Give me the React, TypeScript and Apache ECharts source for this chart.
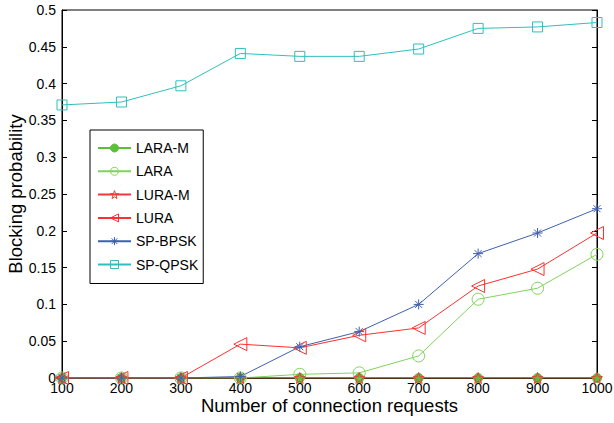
import React, { useEffect, useRef } from "react";
import * as echarts from "echarts";

const xValues = [100, 200, 300, 400, 500, 600, 700, 800, 900, 1000];
const seriesNames = ["LARA-M", "LARA", "LURA-M", "LURA", "SP-BPSK", "SP-QPSK"];
const laraM = [0, 0, 0, 0, 0, 0, 0, 0, 0, 0];
const lara = [0, 0, 0, 0, 0.005, 0.007, 0.03, 0.107, 0.122, 0.168];
const luraM = [0, 0, 0, 0, 0, 0, 0, 0, 0, 0];
const lura = [0, 0, 0, 0.046, 0.041, 0.058, 0.068, 0.125, 0.148, 0.197];
const spBpsk = [0, 0, 0, 0.002, 0.0425, 0.063, 0.1, 0.169, 0.197, 0.23];
const spQpsk = [0.371, 0.375, 0.397, 0.441, 0.437, 0.437, 0.447, 0.475, 0.477, 0.483];

const STAR =
  "path://M0,-10L2.35,-3.24L9.51,-3.09L3.8,1.24L5.88,8.09L0,4L-5.88,8.09L-3.8,1.24L-9.51,-3.09L-2.35,-3.24Z";
const ASTER =
  "path://M0,-10L0,10M-10,0L10,0M-7,-7L7,7M-7,7L7,-7";

export default function App() {
  const ref = useRef<HTMLDivElement>(null);
  useEffect(() => {
    if (!ref.current) return;
    const chart = echarts.init(ref.current, undefined, { renderer: "svg" });
    const font = "Liberation Sans, Arial, sans-serif";
    const colors = ["#5cbf3a", "#7fd45a", "#f03a3a", "#ff3030", "#3f5fb0", "#2fbfbf"];
    const hollowFlags = [false, true, true, true, true, true];
    const mk = (
      name: string,
      data: number[],
      color: string,
      symbol: string,
      size: number,
      hollow: boolean,
      rotate = 0
    ) => ({
      name,
      type: "line",
      data: data.map((v, i) => [xValues[i], v]),
      symbol,
      symbolSize: size,
      symbolRotate: rotate,
      showAllSymbol: true,
      lineStyle: { color, width: 1 },
      itemStyle: hollow
        ? { color: "rgba(255,255,255,0)", borderColor: color, borderWidth: 1 }
        : { color, borderColor: color, borderWidth: 1 },
      emphasis: { disabled: true },
    });
    chart.setOption({
      animation: false,
      backgroundColor: "#ffffff",
      textStyle: { fontFamily: font },
      grid: {
        left: 62,
        right: 17,
        top: 10,
        bottom: 45,
        show: true,
        borderColor: "#000",
        borderWidth: 1,
        containLabel: false,
        outerBoundsMode: "none",
      },
      legend: {
        orient: "vertical",
        left: 90,
        top: 130,
        data: seriesNames.map((n, i) => ({
          name: n,
          itemStyle: hollowFlags[i]
            ? { color: "rgba(255,255,255,0)", borderColor: colors[i], borderWidth: 1 }
            : { color: colors[i], borderColor: colors[i], borderWidth: 1 },
        })),
        itemWidth: 33,
        itemHeight: 10,
        itemGap: 9.3,
        itemTextGap: 6,
        padding: [11, 5, 12, 7],
        borderColor: "#000",
        borderWidth: 1,
        backgroundColor: "#fff",
        textStyle: { fontFamily: font, fontSize: 14, color: "#000" },
      },
      xAxis: [
        {
          type: "value",
          min: 100,
          max: 1000,
          interval: 100,
          name: "Number of connection requests",
          nameLocation: "middle",
          nameGap: 18,
          nameMoveOverlap: false,
          nameTextStyle: { fontFamily: font, fontSize: 18.5, color: "#000" },
          axisLine: { lineStyle: { color: "#000", width: 1 } },
          axisTick: { inside: true, length: 5, lineStyle: { color: "#000" } },
          axisLabel: {
            fontFamily: font,
            fontSize: 14,
            color: "#000",
            margin: 3,
            formatter: (v: number) => String(v),
          },
          splitLine: { show: false },
        },
        {
          type: "value",
          position: "top",
          min: 100,
          max: 1000,
          interval: 100,
          axisLine: { lineStyle: { color: "#000", width: 1 } },
          axisTick: { inside: true, length: 5, lineStyle: { color: "#000" } },
          axisLabel: { show: false },
          splitLine: { show: false },
        },
      ],
      yAxis: [
        {
          type: "value",
          min: 0,
          max: 0.5,
          interval: 0.05,
          name: "Blocking probability",
          nameLocation: "middle",
          nameGap: 37,
          nameMoveOverlap: false,
          nameTextStyle: { fontFamily: font, fontSize: 18.5, color: "#000" },
          axisLine: { show: true, lineStyle: { color: "#000", width: 1 } },
          axisTick: { show: true, inside: true, length: 5, lineStyle: { color: "#000" } },
          axisLabel: { fontFamily: font, fontSize: 14, color: "#000", margin: 6 },
          splitLine: { show: false },
        },
        {
          type: "value",
          position: "right",
          min: 0,
          max: 0.5,
          interval: 0.05,
          axisLine: { show: true, lineStyle: { color: "#000", width: 1 } },
          axisTick: { show: true, inside: true, length: 5, lineStyle: { color: "#000" } },
          axisLabel: { show: false },
          splitLine: { show: false },
        },
      ],
      series: [
        mk("LARA-M", laraM, colors[0], "circle", 9, false),
        mk("LARA", lara, colors[1], "circle", 12, true),
        mk("LURA-M", luraM, colors[2], STAR, 11, true),
        mk("LURA", lura, colors[3], "triangle", 13, true, 90),
        mk("SP-BPSK", spBpsk, colors[4], ASTER, 10, true),
        mk("SP-QPSK", spQpsk, colors[5], "rect", 10, true),
      ],
    });
    return () => chart.dispose();
  }, []);
  return (
    <div
      ref={ref}
      style={{ position: "absolute", left: 0, top: 0, width: 614, height: 423 }}
    />
  );
}
